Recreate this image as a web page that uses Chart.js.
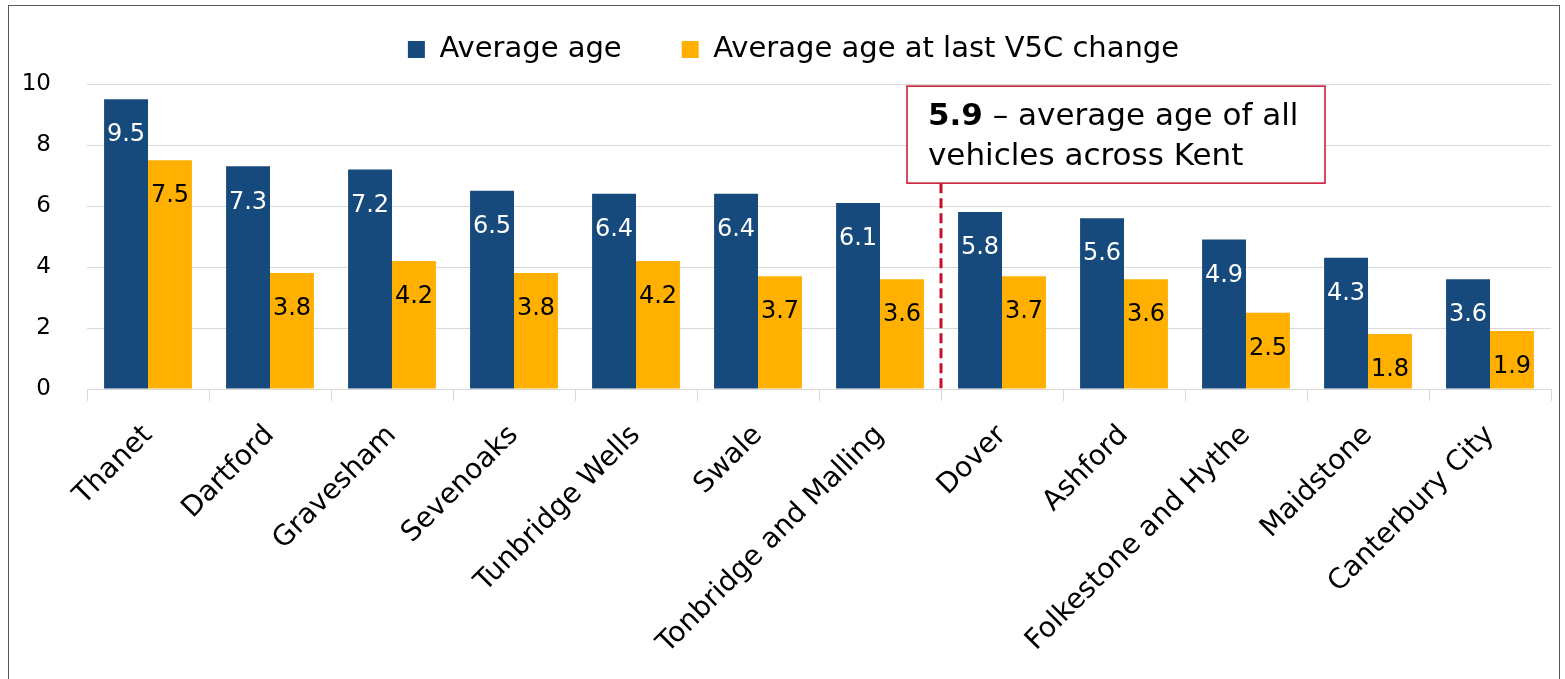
<!DOCTYPE html>
<html>
<head>
<meta charset="utf-8">
<script src="https://cdn.jsdelivr.net/npm/chart.js@4.4.1/dist/chart.umd.min.js"></script>
<style>
  html, body { margin: 0; padding: 0; background: #fff; }
  body { width: 1565px; height: 679px; position: relative; overflow: hidden; }
  #frame { position: absolute; left: 8px; top: 5px; width: 1552px; height: 700px; border: 1px solid #595959; box-sizing: border-box; }
  #wrap { position: absolute; left: 0; top: 0; width: 1565px; height: 679px; }
</style>
</head>
<body>
<div id="frame"></div>
<div id="wrap"><canvas id="myChart"></canvas></div>
<script>
// districts, left to right
const districts = ['Thanet', 'Dartford', 'Gravesham', 'Sevenoaks', 'Tunbridge Wells', 'Swale',
    'Tonbridge and Malling', 'Dover', 'Ashford', 'Folkestone and Hythe', 'Maidstone', 'Canterbury City'];
const averageAge = [9.5, 7.3, 7.2, 6.5, 6.4, 6.4, 6.1, 5.8, 5.6, 4.9, 4.3, 3.6];
const ageAtV5C = [7.5, 3.8, 4.2, 3.8, 4.2, 3.7, 3.6, 3.7, 3.6, 2.5, 1.8, 1.9];
const yTicks = [0, 2, 4, 6, 8, 10];
const kentAverage = 5.9;

const FONT = "'DejaVu Sans', sans-serif";
const NAVY = '#174a7c';
const ORANGE = '#ffb000';
const RED = '#c8102e';

// value labels drawn inside the bars, near the top
const barLabels = {
    id: 'barLabels',
    afterDatasetsDraw(chart) {
        const ctx = chart.ctx;
        ctx.save();
        ctx.font = '24px ' + FONT;
        ctx.textAlign = 'center';
        ctx.textBaseline = 'middle';
        chart.data.datasets.forEach((ds, i) => {
            chart.getDatasetMeta(i).data.forEach((bar, j) => {
                ctx.fillStyle = i === 0 ? '#ffffff' : '#000000';
                ctx.fillText(ds.data[j].toFixed(1), bar.x, bar.y + 36);
            });
        });
        ctx.restore();
    }
};

// legend needs a bit more room under it, and sits a little right of centre
const legendGap = {
    id: 'legendGap',
    beforeLayout(chart) {
        const lg = chart.legend;
        if (lg && !lg._patched) {
            const fit = lg.fit;
            lg.fit = function () { fit.call(this); this.height += 10; };
            lg._patched = true;
        }
    },
    afterLayout(chart) {
        chart.legend.left += 18;
        chart.legend.right += 18;
    }
};

// callout box + dashed divider between Tonbridge and Malling and Dover
const callout = {
    id: 'callout',
    afterDraw(chart) {
        const ctx = chart.ctx;
        const x = chart.scales.x;
        const y = chart.scales.y;
        const lx = (x.getPixelForTick(6) + x.getPixelForTick(7)) / 2;
        const boxL = lx - 34, boxT = y.getPixelForValue(9.93), boxW = 418, boxH = 97;
        ctx.save();
        ctx.strokeStyle = RED;
        ctx.lineWidth = 3;
        ctx.setLineDash([10, 5]);
        ctx.beginPath();
        ctx.moveTo(lx, boxT + boxH);
        ctx.lineTo(lx, y.getPixelForValue(0));
        ctx.stroke();
        ctx.setLineDash([]);
        ctx.fillStyle = '#fff';
        ctx.fillRect(boxL, boxT, boxW, boxH);
        ctx.lineWidth = 1.5;
        ctx.strokeRect(boxL, boxT, boxW, boxH);
        ctx.fillStyle = '#000';
        ctx.textBaseline = 'alphabetic';
        ctx.textAlign = 'left';
        ctx.font = 'bold 31px ' + FONT;
        const bold = kentAverage.toFixed(1);
        ctx.fillText(bold, boxL + 21, boxT + 39);
        const bw = ctx.measureText(bold).width;
        ctx.font = '31px ' + FONT;
        ctx.fillText(' \u2013 average age of all', boxL + 21 + bw, boxT + 39);
        ctx.fillText('vehicles across Kent', boxL + 21, boxT + 79);
        ctx.restore();
    }
};

const chartEl = document.getElementById('myChart');

new Chart(chartEl, {
    type: 'bar',
    data: {
        labels: districts,
        datasets: [{
            label: 'Average age',
            data: averageAge,
            backgroundColor: NAVY
        }, {
            label: 'Average age at last V5C change',
            data: ageAtV5C,
            backgroundColor: ORANGE
        }]
    },
    options: {
        responsive: true,
        maintainAspectRatio: false,
        animation: false,
        layout: { padding: { left: 0, right: 14, top: -25, bottom: 0 } },
        datasets: { bar: { categoryPercentage: 0.72, barPercentage: 1.0 } },
        plugins: {
            legend: {
                position: 'top',
                labels: {
                    font: { family: FONT, size: 29 },
                    color: '#000',
                    boxWidth: 17,
                    boxHeight: 17,
                    padding: 60
                }
            },
            tooltip: { enabled: false }
        },
        scales: {
            x: {
                grid: {
                    offset: true,
                    drawOnChartArea: false,
                    color: '#d9d9d9',
                    tickLength: 12
                },
                border: { color: '#d9d9d9' },
                ticks: {
                    font: { family: FONT, size: 28 },
                    color: '#000',
                    minRotation: 45,
                    maxRotation: 45,
                    autoSkip: false,
                    padding: 18
                },
                afterFit(scale) { scale.height = 290; }
            },
            y: {
                min: 0,
                max: 10,
                afterBuildTicks(scale) { scale.ticks = yTicks.map(v => ({ value: v })); },
                grid: { color: '#d9d9d9', drawTicks: false },
                border: { display: false },
                ticks: {
                    font: { family: FONT, size: 23 },
                    color: '#000',
                    padding: 36
                },
                afterFit(scale) { scale.width = 87; }
            }
        }
    },
    plugins: [legendGap, barLabels, callout]
});
</script>
</body>
</html>
